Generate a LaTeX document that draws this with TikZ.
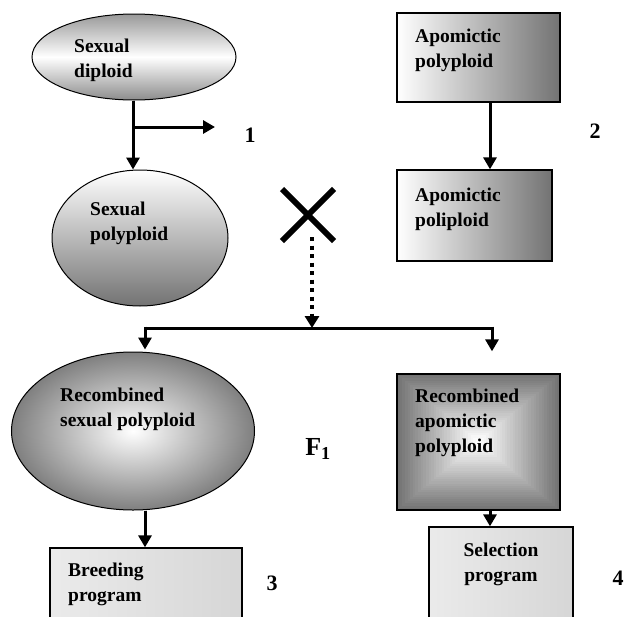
\documentclass[tikz,border=0pt]{standalone}
\usepackage{fontspec}
\setmainfont{Liberation Serif}
\usetikzlibrary{arrows.meta,shapes.geometric,shapes.misc,calc}
\tikzset{
  lbl/.style={inner sep=0pt,align=left,anchor=west,font=\fontsize{19.5}{25}\selectfont\bfseries},
  num/.style={inner sep=0pt,font=\fontsize{22}{25}\selectfont\bfseries},
  ell/.style={ellipse,draw=black,line width=1pt,inner sep=0pt},
  box/.style={rectangle,draw=black,line width=1.3pt,inner sep=0pt},
  marble/.style={box,left color=black!8,right color=black!16},
  arr/.style={line width=3pt,-{Triangle[length=12pt,width=13pt]}},
  ln/.style={line width=3pt},
  dotarr/.style={line width=4.5pt,dash pattern=on 4pt off 4.5pt,-{Triangle[length=12pt,width=14pt]}}
}
\begin{document}
\begin{tikzpicture}[x=1pt,y=-1pt]
\clip (0,0) rectangle (624,616);
\fill[white] (0,0) rectangle (624,616);
% shapes
\node[ell,minimum width=204pt,minimum height=86pt,top color=black!40,bottom color=black!45,middle color=white] (sd) at (134,57) {};
\node[ell,minimum width=176pt,minimum height=136pt,top color=white,bottom color=black!55] (sp) at (140,238) {};
\node[box,minimum width=163pt,minimum height=89pt,left color=white,right color=black!55] (ap1) at (478.5,57.5) {};
\node[box,minimum width=155pt,minimum height=91pt,left color=white,right color=black!55] (ap2) at (474.5,215.5) {};
\node[ell,minimum width=243pt,minimum height=158pt,inner color=white,outer color=black!50] (rsp) at (133,431) {};
\node[box,minimum width=163pt,minimum height=136pt] (rap) at (478.5,442) {};
\foreach \i in {0,...,30}{
  \pgfmathsetmacro\c{100*\i/30}
  \pgfmathsetmacro\sx{81.5*(1-\i/31)}
  \pgfmathsetmacro\sy{68*(1-\i/31)}
  \fill[white!\c!black!55] ($(rap.center)+(-\sx,-\sy)$) rectangle ($(rap.center)+(\sx,\sy)$);
}
\node[box,minimum width=163pt,minimum height=136pt] at (478.5,442) {};
\node[marble,minimum width=192pt,minimum height=100pt] (bp) at (146,598) {};
\node[marble,minimum width=144pt,minimum height=110pt] (selp) at (501,582) {};
% texts
\node[lbl] (tsd) at (74,60) {Sexual\\diploid};
\node[lbl] (tsp) at (90,223) {Sexual\\polyploid};
\node[lbl] (tap1) at (415,50) {Apomictic\\polyploid};
\node[lbl] (tap2) at (415,209) {Apomictic\\poliploid};
\node[lbl] (trsp) at (60,409) {Recombined\\sexual polyploid};
\node[lbl] (trap) at (415,423) {Recombined\\apomictic\\polyploid};
\node[lbl] (tbp) at (68,584) {Breeding\\program};
\node[lbl,anchor=center,align=center] (tsel) at (501,564) {Selection\\program};
\node[num] (n1) at (250,135) {1};
\node[num] (n2) at (595,131) {2};
\node[num] (n3) at (272,583) {3};
\node[num] (n4) at (618,578) {4};
\node[num,font=\fontsize{26}{28}\selectfont\bfseries] (f1) at (318,449) {F$_{\mathbf{1}}$};
% cross
\node[cross out,draw=black,line width=6pt,minimum width=46pt,minimum height=46pt,inner sep=0pt] (cross) at (308,215) {};
% connectors
\coordinate (b1) at (133,127);
\coordinate (e1) at (215,127);
\coordinate (L) at (145,328);
\coordinate (R) at (492,328);
\draw[arr] ([xshift=-1pt]sd.south) -- ([xshift=-1pt]sd.south |- sp.north);
\draw[arr] (b1) -- (e1);
\draw[arr] ([xshift=11.5pt]ap1.south) -- ([xshift=11.5pt]ap1.south |- ap2.north);
\draw[dotarr] ([xshift=4pt,yshift=-22pt]cross.center) -- ([xshift=4pt]cross.center |- L);
\draw[ln] (L) -- (R);
\draw[arr] ([yshift=1.5pt]L) -- ([yshift=2pt]L |- rsp.north);
\draw[arr] ([yshift=1.5pt]R) -- ([yshift=22pt]R |- rap.north);
\draw[arr] ([xshift=12pt]rsp.south) -- ([xshift=12pt]rsp.south |- bp.north);
\draw[arr] ([xshift=11.5pt]rap.south) -- ([xshift=11.5pt]rap.south |- selp.north);
\end{tikzpicture}
\end{document}
